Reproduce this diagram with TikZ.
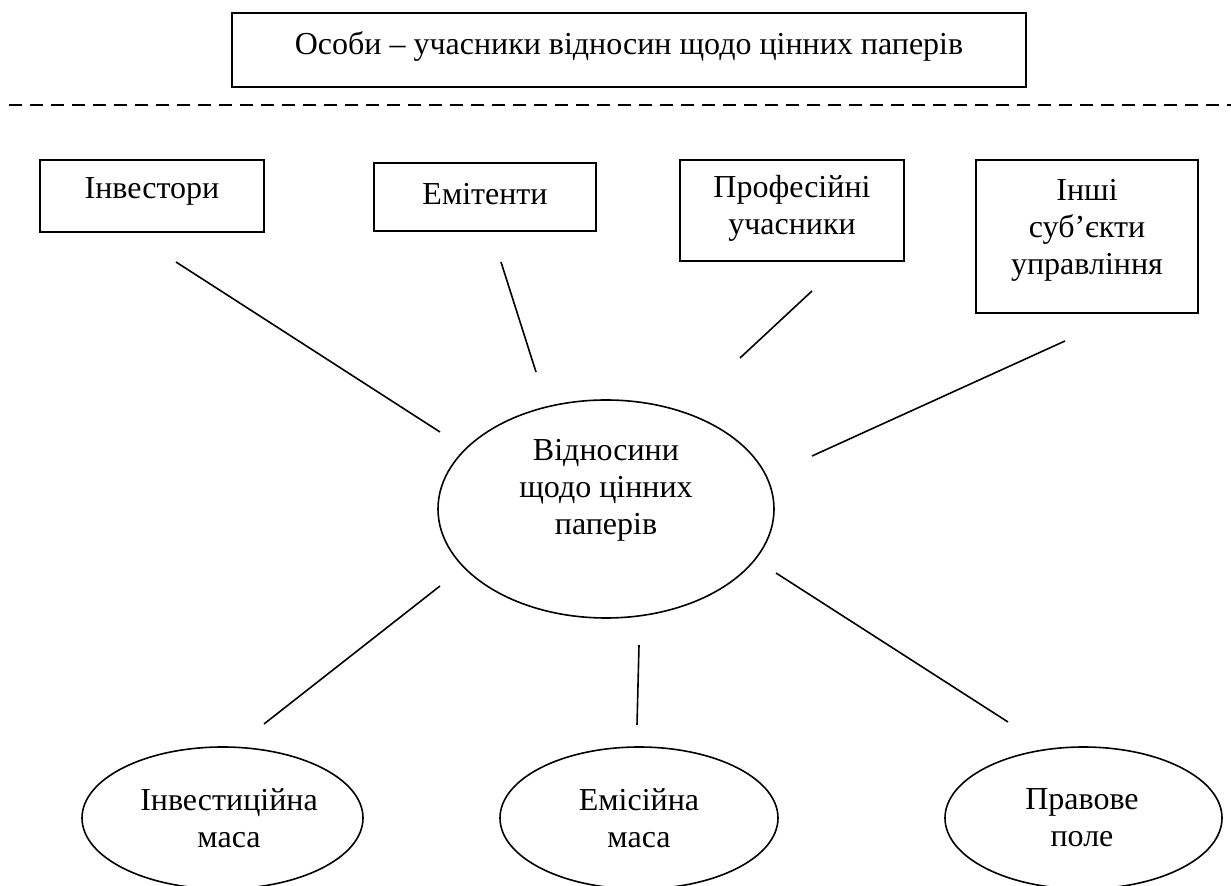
\documentclass[tikz,border=0pt]{standalone}
\usepackage{fontspec}
\setmainfont{Liberation Serif}
\usetikzlibrary{shapes.geometric}
\begin{document}
\begin{tikzpicture}[x=0.5pt,y=-0.5pt,
  every node/.style={font=\fontsize{16}{18.5}\selectfont, align=center, inner sep=0pt},
  box/.style={draw, line width=0.8pt, rectangle},
  oval/.style={draw, line width=0.8pt, ellipse},
  link/.style={line width=0.8pt}]
\useasboundingbox (0,0) rectangle (1231,886);
% top
\node[box, minimum width=397pt, minimum height=37pt] (top) at (629,50) {};
\node (toptxt) at (629,47) {Особи -- учасники відносин щодо цінних паперів};
\coordinate (dl) at (9,105);
\coordinate (dr) at (1231,105);
\draw[line width=1pt, dash pattern=on 6.5pt off 4pt] (dl) -- (dr);
% boxes
\node[box, minimum width=112pt, minimum height=36pt] (inv) at (152,196) {};
\node (invt) at (152,191) {Інвестори};
\node[box, minimum width=111pt, minimum height=34pt] (emi) at (485,197) {};
\node (emit) at (485,194) {Емітенти};
\node[box, minimum width=112pt, minimum height=50.5pt] (prof) at (792,210.5) {};
\node (proft) at (792,208) {Професійні\\учасники};
\node[box, minimum width=111pt, minimum height=76.5pt] (insh) at (1087,236.5) {};
\node (insht) at (1087,230) {Інші\\суб’єкти\\управління};
% centre
\node[oval, minimum width=168pt, minimum height=109pt] (c) at (606,509) {};
\node (ct) at (606,490) {Відносини\\щодо цінних\\паперів};
% bottom
\node[oval, minimum width=140.5pt, minimum height=71pt] (b1) at (222.5,818) {};
\node (b1t) at (229,818) {Інвестиційна\\маса};
\node[oval, minimum width=139pt, minimum height=71pt] (b2) at (639,818) {};
\node (b2t) at (639,818) {Емісійна\\маса};
\node[oval, minimum width=138.5pt, minimum height=71pt] (b3) at (1083.5,818) {};
\node (b3t) at (1082,818) {Правове\\поле};
% connector ends
\coordinate (l1a) at (176,262); \coordinate (l1b) at (440,432);
\coordinate (l2a) at (501,262); \coordinate (l2b) at (536,372);
\coordinate (l3a) at (812,291); \coordinate (l3b) at (740,358);
\coordinate (l4a) at (1065,341); \coordinate (l4b) at (812,456);
\coordinate (l5a) at (440,586); \coordinate (l5b) at (264,724);
\coordinate (l6a) at (639,645); \coordinate (l6b) at (637,725);
\coordinate (l7a) at (776,573); \coordinate (l7b) at (1008,722);
\draw[link] (l1a) -- (l1b);
\draw[link] (l2a) -- (l2b);
\draw[link] (l3a) -- (l3b);
\draw[link] (l4a) -- (l4b);
\draw[link] (l5a) -- (l5b);
\draw[link] (l6a) -- (l6b);
\draw[link] (l7a) -- (l7b);
\end{tikzpicture}
\end{document}
